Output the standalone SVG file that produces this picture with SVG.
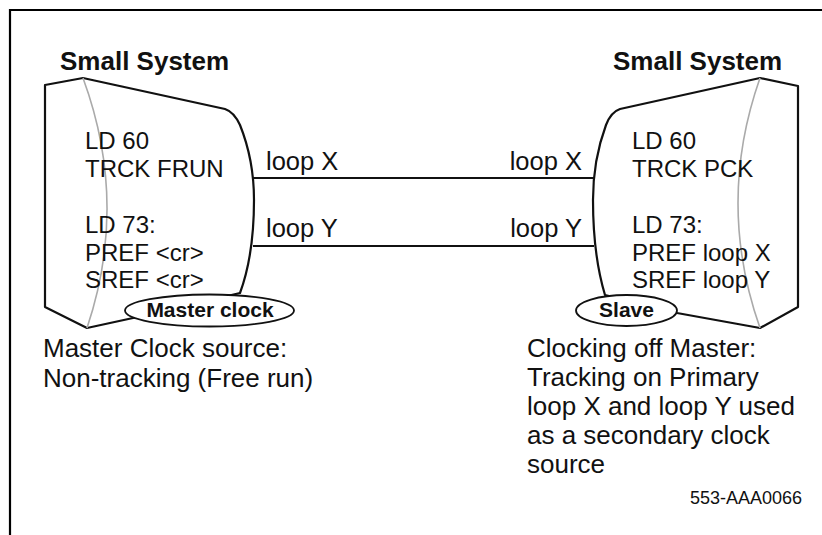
<svg xmlns="http://www.w3.org/2000/svg" width="822" height="535" viewBox="0 0 822 535">
<style>
text{font-family:"Liberation Sans",Arial,sans-serif;fill:#111}
.title{font-size:26px;font-weight:bold}
.body{font-size:24px}
.lbl{font-size:25.5px}
.note{font-size:26px}
.tag{font-size:21px;font-weight:bold}
.outline{fill:#fff;stroke:#111;stroke-width:2.2;stroke-linejoin:round}
.rim{fill:none;stroke:#aaa;stroke-width:1.6}
.conn{stroke:#111;stroke-width:2.2;fill:none}
.ell{fill:#fff;stroke:#111;stroke-width:1.8}
</style>
<rect width="822" height="535" fill="#fff"/>
<path d="M10,535 V10 H822" fill="none" stroke="#000" stroke-width="2.2"/>
<g id="left-system">
<text class="title" x="60" y="70">Small System</text>
<path class="outline" d="M45,85 L83,78 L225,109 Q234,112 240,125 Q254,160 254,200 Q254,255 240,293 L133,318 L87,328 L45,307 Z"/>
<path class="rim" d="M83,78 Q129,203 87,328"/>
<text class="body" x="85" y="149">LD 60</text>
<text class="body" x="85" y="177">TRCK FRUN</text>
<text class="body" x="85" y="233">LD 73:</text>
<text class="body" x="85" y="261">PREF &lt;cr&gt;</text>
<text class="body" x="85" y="288">SREF &lt;cr&gt;</text>
</g>
<g id="master-clock">
<ellipse class="ell" cx="209.5" cy="310.5" rx="84.5" ry="16"/>
<text class="tag" x="210" y="317" text-anchor="middle">Master clock</text>
</g>
<g id="right-system">
<text class="title" x="613" y="70">Small System</text>
<path class="outline" d="M798,86 L760,78 L620,109 Q611,112 606,125 Q593,160 593,200 Q593,255 605,295 L677,313 L760,328 L798,307 Z"/>
<path class="rim" d="M760,78 Q716,203 760,328"/>
<text class="body" x="632" y="149">LD 60</text>
<text class="body" x="632" y="177">TRCK PCK</text>
<text class="body" x="632" y="233">LD 73:</text>
<text class="body" x="632" y="261">PREF loop X</text>
<text class="body" x="632" y="288">SREF loop Y</text>
</g>
<g id="slave">
<ellipse class="ell" cx="626.5" cy="310.5" rx="50.5" ry="15.5"/>
<text class="tag" x="626.5" y="317" text-anchor="middle">Slave</text>
</g>
<g id="connectors">
<line class="conn" x1="253" y1="178" x2="594" y2="178"/>
<line class="conn" x1="253" y1="246" x2="594" y2="246"/>
</g>
<g id="labels">
<text class="lbl" x="266" y="170">loop X</text>
<text class="lbl" x="582" y="170" text-anchor="end">loop X</text>
<text class="lbl" x="266" y="237">loop Y</text>
<text class="lbl" x="582" y="237" text-anchor="end">loop Y</text>
<text class="note" x="43" y="357">Master Clock source:</text>
<text class="note" x="43" y="387">Non-tracking (Free run)</text>
<text class="note" x="527" y="357">Clocking off Master:</text>
<text class="note" x="527" y="386">Tracking on Primary</text>
<text class="note" x="527" y="415">loop X and loop Y used</text>
<text class="note" x="527" y="444">as a secondary clock</text>
<text class="note" x="527" y="473">source</text>
<text x="802" y="504" font-size="18" text-anchor="end">553-AAA0066</text>
</g>
</svg>
